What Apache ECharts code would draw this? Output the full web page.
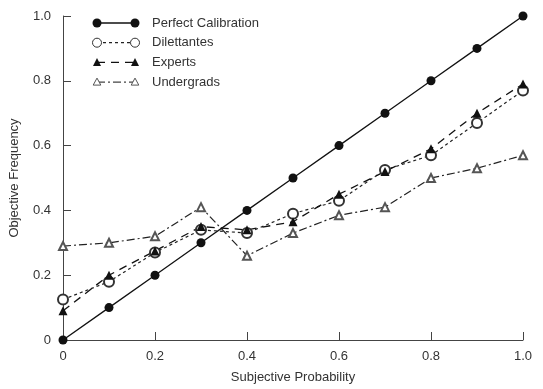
<!DOCTYPE html>
<html><head><meta charset="utf-8">
<script src="https://cdn.jsdelivr.net/npm/echarts@6/dist/echarts.min.js"></script>
<style>html,body{margin:0;padding:0;background:#fff}#c{width:543px;height:389px}</style>
</head><body><div id="c"></div>
<script>
var xValues = [0, 0.1, 0.2, 0.3, 0.4, 0.5, 0.6, 0.7, 0.8, 0.9, 1.0];
var perfect = [0, 0.1, 0.2, 0.3, 0.4, 0.5, 0.6, 0.7, 0.8, 0.9, 1.0];
var dilettantes = [0.125, 0.18, 0.27, 0.34, 0.33, 0.39, 0.43, 0.525, 0.57, 0.67, 0.77];
var experts = [0.09, 0.20, 0.275, 0.35, 0.34, 0.365, 0.45, 0.52, 0.59, 0.70, 0.79];
var undergrads = [0.29, 0.30, 0.32, 0.41, 0.26, 0.33, 0.385, 0.41, 0.50, 0.53, 0.57];
var seriesNames = ['Perfect Calibration', 'Dilettantes', 'Experts', 'Undergrads'];

function pairs(arr){ return xValues.map(function(x,i){ return [x, arr[i]]; }); }
var FONT = 'Liberation Sans, Arial, sans-serif';
var TXT = '#333';
var fmt = function(v){ return v === 0 ? '0' : v.toFixed(1); };

var chart = echarts.init(document.getElementById('c'), null, {renderer:'canvas'});

var legendStyles = [
  {dash: null, sym: 'fc', color:'#111'},
  {dash: [3,3], sym: 'oc', color:'#222'},
  {dash: [8,6], sym: 'ft', color:'#111'},
  {dash: [8,3,2,3], sym: 'ot', color:'#444'}
];
var graphics = [];
legendStyles.forEach(function(s, i){
  var y = 23 + i*19.7, x1 = 97, x2 = 135;
  graphics.push({type:'line', shape:{x1:x1,y1:y,x2:x2,y2:y}, style:{stroke:s.color, lineWidth:1.3, lineDash:s.dash}, z:10});
  [x1,x2].forEach(function(x){
    if (s.sym === 'fc') graphics.push({type:'circle', shape:{cx:x,cy:y,r:4.5}, style:{fill:'#111'}, z:11});
    else if (s.sym === 'oc') graphics.push({type:'circle', shape:{cx:x,cy:y,r:4.5}, style:{fill:'#fff', stroke:'#333', lineWidth:1}, z:11});
    else if (s.sym === 'ft') graphics.push({type:'polygon', shape:{points:[[x,y-4.5],[x-4,y+3.5],[x+4,y+3.5]]}, style:{fill:'#111'}, z:11});
    else graphics.push({type:'polygon', shape:{points:[[x,y-4],[x-3.8,y+3],[x+3.8,y+3]]}, style:{fill:'#fff', stroke:'#555', lineWidth:1}, z:11});
  });
  graphics.push({type:'text', x:152, y:y, style:{text:seriesNames[i], fill:TXT, font:'13px ' + FONT, textVerticalAlign:'middle'}, z:11});
});

chart.setOption({
  animation:false,
  backgroundColor:'#fff',
  grid:{left:62, right:20, top:16, bottom:49},
  graphic: graphics,
  xAxis:{type:'value', min:0, max:1, interval:0.2,
    name:'Subjective Probability', nameLocation:'middle', nameGap:31,
    nameTextStyle:{color:TXT, fontSize:13, fontFamily:FONT},
    axisLine:{lineStyle:{color:'#444', width:1}},
    axisTick:{show:true, inside:true, length:8, lineStyle:{color:'#444'}},
    axisLabel:{color:TXT, fontSize:13, fontFamily:FONT, margin:10, formatter:fmt},
    splitLine:{show:false}},
  yAxis:{type:'value', min:0, max:1, interval:0.2,
    name:'Objective Frequency', nameLocation:'middle', nameGap:42,
    nameTextStyle:{color:TXT, fontSize:13, fontFamily:FONT},
    axisLine:{show:true, lineStyle:{color:'#444', width:1}},
    axisTick:{show:true, inside:true, length:8, lineStyle:{color:'#444'}},
    axisLabel:{color:TXT, fontSize:13, fontFamily:FONT, margin:12, formatter:fmt},
    splitLine:{show:false}},
  series:[
    {name:seriesNames[3], type:'line', data:pairs(undergrads), clip:false,
     symbol:'emptyTriangle', symbolSize:8, showAllSymbol:true,
     lineStyle:{color:'#222', width:1.2, type:[8,3,2,3]},
     itemStyle:{color:'#555', borderColor:'#555', borderWidth:1}},
    {name:seriesNames[1], type:'line', data:pairs(dilettantes), clip:false,
     symbol:'emptyCircle', symbolSize:10,
     lineStyle:{color:'#222', width:1.2, type:[3,3]},
     itemStyle:{color:'#333', borderColor:'#333', borderWidth:1}},
    {name:seriesNames[2], type:'line', data:pairs(experts), clip:false,
     symbol:'triangle', symbolSize:9,
     lineStyle:{color:'#111', width:1.3, type:[8,6]},
     itemStyle:{color:'#111'}},
    {name:seriesNames[0], type:'line', data:pairs(perfect), clip:false,
     symbol:'circle', symbolSize:9,
     lineStyle:{color:'#111', width:1.3, type:'solid'},
     itemStyle:{color:'#111'}}
  ]
});
</script></body></html>
